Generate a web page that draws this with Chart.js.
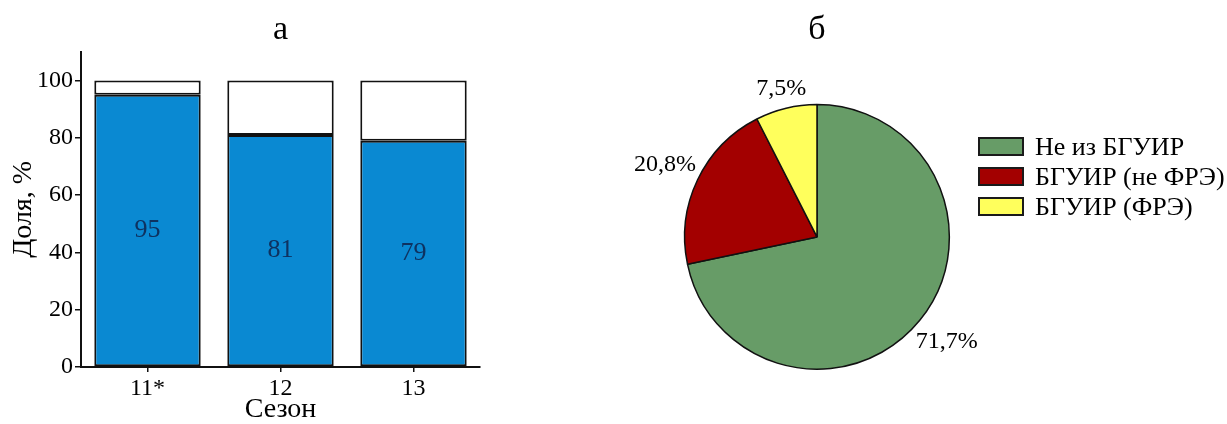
<!DOCTYPE html>
<html>
<head>
<meta charset="utf-8">
<script src="https://cdn.jsdelivr.net/npm/chart.js@4.4.1/dist/chart.umd.min.js"></script>
<style>
  body { margin: 0; background: #fff; width: 1227px; height: 424px; position: relative; overflow: hidden; }
  canvas { position: absolute; top: 0; }
  #bars { left: 10px; }
  #pie { left: 607px; }
  #legend { position: absolute; left: 978px; top: 137px; font-family: "Liberation Serif", serif; font-size: 26px; color: #000; }
  .row { display: flex; align-items: center; height: 19px; margin-bottom: 11px; }
  .box { width: 46px; height: 19px; box-sizing: border-box; border: 2px solid #1a1a1a; margin-right: 11px; }
</style>
</head>
<body>
<canvas id="bars" width="522" height="424"></canvas>
<canvas id="pie" width="420" height="424"></canvas>
<div id="legend"></div>
<script>
// panel a - share by season
const seasons = ["11*", "12", "13"];
const shareValues = [95, 81, 79];
const restValues = [5, 19, 21];

// panel b - where participants come from
const pieLabels = ["Не из БГУИР", "БГУИР (не ФРЭ)", "БГУИР (ФРЭ)"];
const pieValues = [71.7, 20.8, 7.5];
const pieColors = ["#679C67", "#A30000", "#FFFF5C"];

Chart.defaults.font.family = "'Liberation Serif', 'Times New Roman', serif";
Chart.defaults.color = "#000";

// numbers inside the blue bars
const barLabels = {
  id: "barLabels",
  afterDatasetsDraw(chart) {
    const ctx = chart.ctx;
    const meta = chart.getDatasetMeta(0);
    ctx.save();
    ctx.font = "26px 'Liberation Serif', serif";
    ctx.fillStyle = "#0E3260";
    ctx.textAlign = "center";
    ctx.textBaseline = "middle";
    meta.data.forEach(function(bar, i) {
      ctx.fillText(shareValues[i], bar.x, (bar.y + bar.base) / 2);
    });
    ctx.restore();
  }
};

// percent labels outside the slices
const pieOutLabels = {
  id: "pieOutLabels",
  afterDatasetsDraw(chart) {
    const ctx = chart.ctx;
    const meta = chart.getDatasetMeta(0);
    const fs = 24;
    ctx.save();
    ctx.font = fs + "px 'Liberation Serif', serif";
    ctx.fillStyle = "#000";
    ctx.textAlign = "center";
    ctx.textBaseline = "middle";
    meta.data.forEach(function(arc, i) {
      const txt = pieValues[i].toFixed(1).replace(".", ",") + "%";
      const a = (arc.startAngle + arc.endAngle) / 2;
      const c = Math.cos(a), s = Math.sin(a);
      const w = ctx.measureText(txt).width;
      const d = arc.outerRadius + 3 + (w / 2) * Math.abs(c) + (fs / 2) * Math.abs(s);
      ctx.fillText(txt, arc.x + c * d, arc.y + s * d);
    });
    ctx.restore();
  }
};

new Chart("bars", {
  type: "bar",
  data: {
    labels: seasons,
    datasets: [{
      data: shareValues,
      backgroundColor: "#0A89D2",
      borderColor: "#111",
      borderWidth: 2,
      borderSkipped: false,
      barPercentage: 0.8,
      categoryPercentage: 1
    }, {
      data: restValues,
      backgroundColor: "#fff",
      borderColor: "#111",
      borderWidth: 2,
      borderSkipped: false,
      barPercentage: 0.8,
      categoryPercentage: 1
    }]
  },
  options: {
    responsive: false,
    animation: false,
    devicePixelRatio: 1,
    layout: { padding: { left: 0, right: 52, top: 0, bottom: 0 } },
    plugins: {
      legend: { display: false },
      tooltip: { enabled: false },
      title: {
        display: true,
        text: "а",
        fullSize: false,
        font: { size: 34, weight: "normal", lineHeight: 1.2 },
        padding: { top: 10, bottom: 1 }
      }
    },
    scales: {
      x: {
        stacked: true,
        grid: { offset: false, drawOnChartArea: false, tickLength: 5, color: "#111", lineWidth: 1.5 },
        border: { color: "#111", width: 2 },
        ticks: { font: { size: 24 }, padding: 2 },
        title: { display: true, text: "Сезон", font: { size: 28, lineHeight: 1 }, padding: 0 },
        afterFit(scale) { scale.height = 57; }
      },
      y: {
        stacked: true,
        min: 0,
        max: 110,
        grid: { drawOnChartArea: false, tickLength: 6, color: "#111", lineWidth: 1.5 },
        border: { color: "#111", width: 2 },
        ticks: { stepSize: 20, font: { size: 24 }, padding: 2 },
        title: { display: true, text: "Доля, %", font: { size: 28, lineHeight: 1 }, padding: 0 },
        afterBuildTicks(scale) { scale.ticks = scale.ticks.filter(t => t.value <= 100); },
        afterFit(scale) { scale.width = 71; }
      }
    }
  },
  plugins: [barLabels]
});

const pieChart = new Chart("pie", {
  type: "pie",
  data: {
    labels: pieLabels,
    datasets: [{
      data: pieValues,
      backgroundColor: pieColors,
      borderColor: "#111",
      borderWidth: 1.5
    }]
  },
  options: {
    responsive: false,
    animation: false,
    devicePixelRatio: 1,
    layout: { padding: { top: 0, bottom: 54, left: 0, right: 0 } },
    plugins: {
      legend: { display: false },
      tooltip: { enabled: false },
      title: {
        display: true,
        text: "б",
        font: { size: 34, weight: "normal", lineHeight: 1.2 },
        padding: { top: 10, bottom: 53 }
      }
    }
  },
  plugins: [pieOutLabels]
});

// legend built from the pie data
const legendEl = document.getElementById("legend");
pieLabels.forEach(function(lbl, i) {
  const row = document.createElement("div");
  row.className = "row";
  const box = document.createElement("span");
  box.className = "box";
  box.style.background = pieColors[i];
  const txt = document.createElement("span");
  txt.textContent = lbl;
  row.appendChild(box);
  row.appendChild(txt);
  legendEl.appendChild(row);
});
</script>
</body>
</html>
